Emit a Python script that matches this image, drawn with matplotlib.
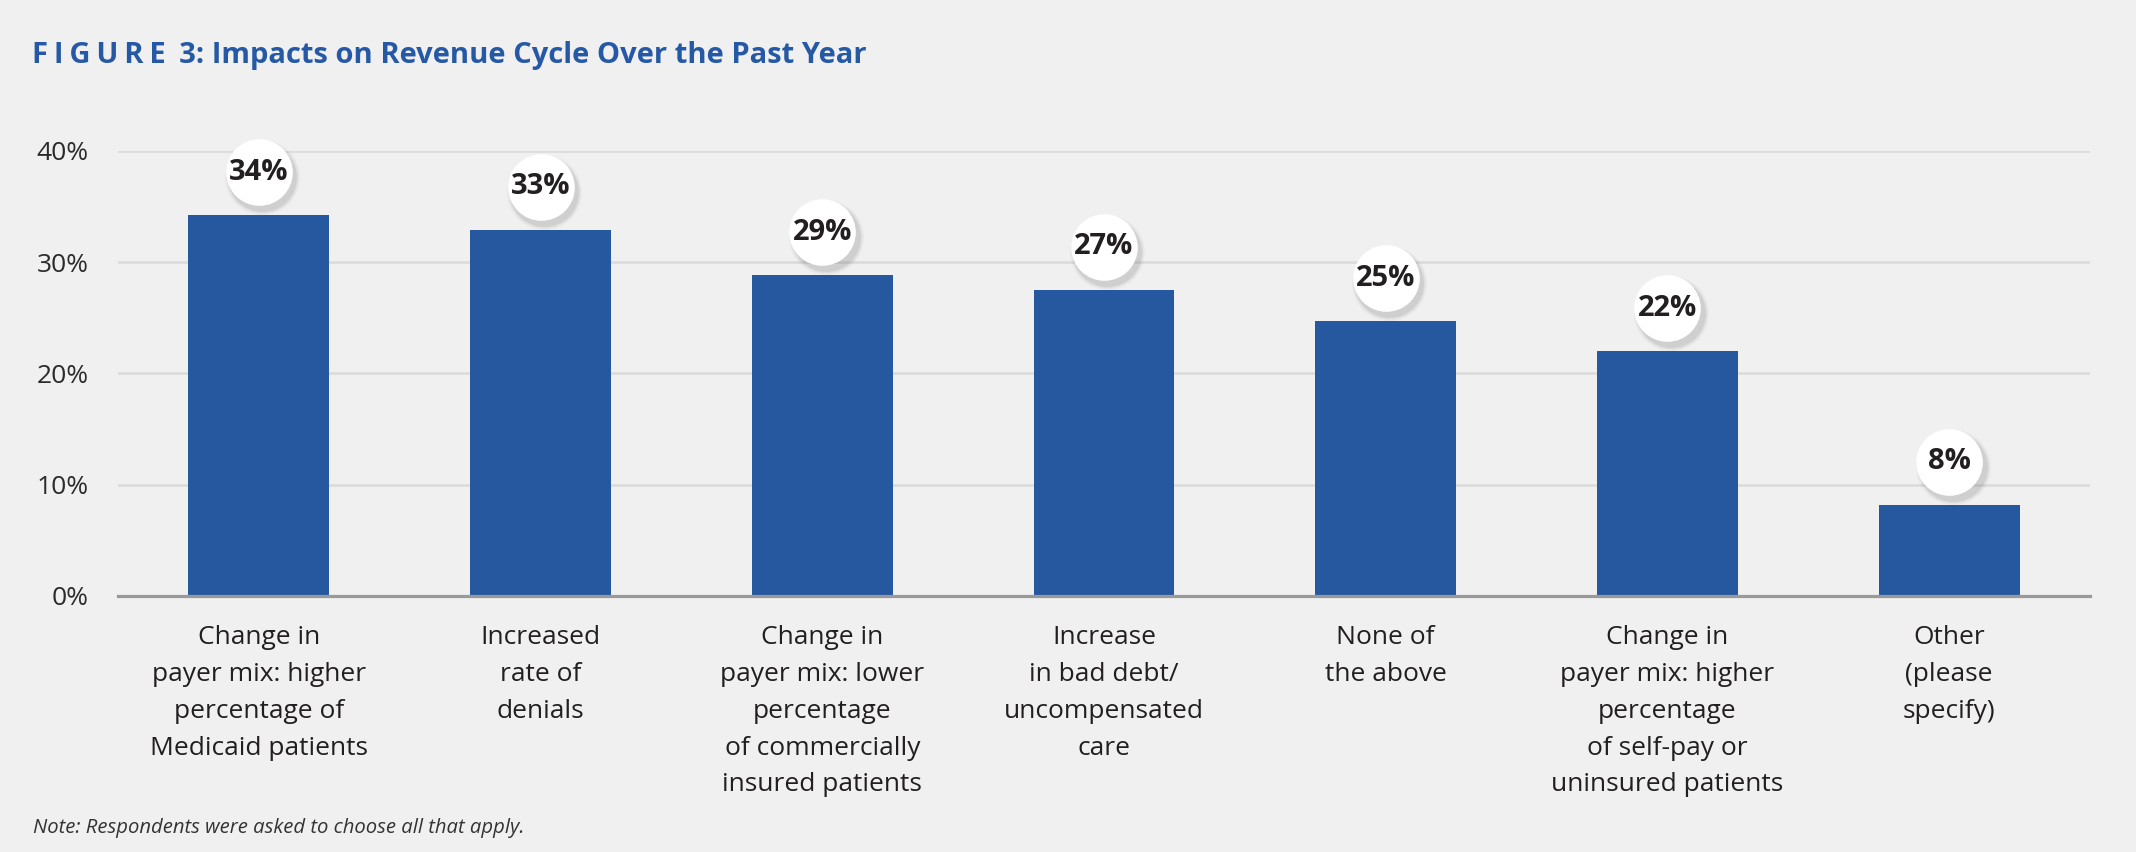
import matplotlib
matplotlib.use("Agg")
import matplotlib.pyplot as plt
import matplotlib.transforms as mtransforms

plt.rcParams['font.family'] = ['Open Sans', 'DejaVu Sans']

categories = [
    "Change in\npayer mix: higher\npercentage of\nMedicaid patients",
    "Increased\nrate of\ndenials",
    "Change in\npayer mix: lower\npercentage\nof commercially\ninsured patients",
    "Increase\nin bad debt/\nuncompensated\ncare",
    "None of\nthe above",
    "Change in\npayer mix: higher\npercentage\nof self-pay or\nuninsured patients",
    "Other\n(please\nspecify)",
]
values = [34.2, 32.9, 28.8, 27.5, 24.7, 22.0, 8.2]
labels = ["34%", "33%", "29%", "27%", "25%", "22%", "8%"]
yticks = [0, 10, 20, 30, 40]
ytick_labels = ["0%", "10%", "20%", "30%", "40%"]

bg = "#F0F0F0"
blue = "#26589F"

fig = plt.figure(figsize=(21.36, 8.52), dpi=100, facecolor=bg)
ax = fig.add_axes([0.05524, 0.30047, 0.92322, 0.5225])
ax.set_facecolor(bg)

x = list(range(len(values)))
ax.bar(x, values, width=0.5, color=blue, zorder=3)

ax.set_xlim(-0.5, len(values) - 0.5)
ax.set_ylim(0, 40)
ax.set_yticks(yticks)
ax.set_yticklabels(ytick_labels, fontsize=19, color="#2b2b2b")
ax.set_xticks(x)
ax.set_xticklabels(categories, fontsize=19, color="#231F20", linespacing=1.62)
ax.tick_params(axis="both", length=0)
ax.tick_params(axis="y", pad=21)
ax.tick_params(axis="x", pad=21)

for s in ["top", "right", "left"]:
    ax.spines[s].set_visible(False)
ax.spines["bottom"].set_color("#999999")
ax.spines["bottom"].set_linewidth(2.3)
ax.spines["bottom"].set_zorder(4)

for t in yticks[1:]:
    ax.axhline(t, color="#DCDCDE", linewidth=2, zorder=1)

# value bubbles above the bars
up = mtransforms.ScaledTranslation(0, 0.43, fig.dpi_scale_trans)
for i, (v, lab) in enumerate(zip(values, labels)):
    for k, (a, s) in enumerate([(0.05, 2900), (0.07, 2650), (0.10, 2450)]):
        sh = mtransforms.ScaledTranslation(0.035, 0.38, fig.dpi_scale_trans)
        ax.scatter([i], [v], s=s, color="#555555", alpha=a, linewidths=0,
                   transform=ax.transData + sh, zorder=5, clip_on=False)
    ax.scatter([i], [v], s=2300, color="white", linewidths=0,
               transform=ax.transData + up, zorder=6, clip_on=False)
    ax.text(i, v, lab, ha="center", va="center", fontsize=21, fontweight="bold",
            color="#231F20", transform=ax.transData + up, zorder=7)

title = "F\u2009I\u2009G\u2009U\u2009R\u2009E\u2009 3: Impacts on Revenue Cycle Over the Past Year"
fig.text(0.015, 0.926, title,
         fontsize=21, fontweight="bold", color="#2659A5", va="baseline")
fig.text(0.0155, 0.022, "Note: Respondents were asked to choose all that apply.",
         fontsize=14.6, fontstyle="italic", color="#333333", va="baseline")

fig.savefig("out.png", dpi=100, facecolor=bg)
